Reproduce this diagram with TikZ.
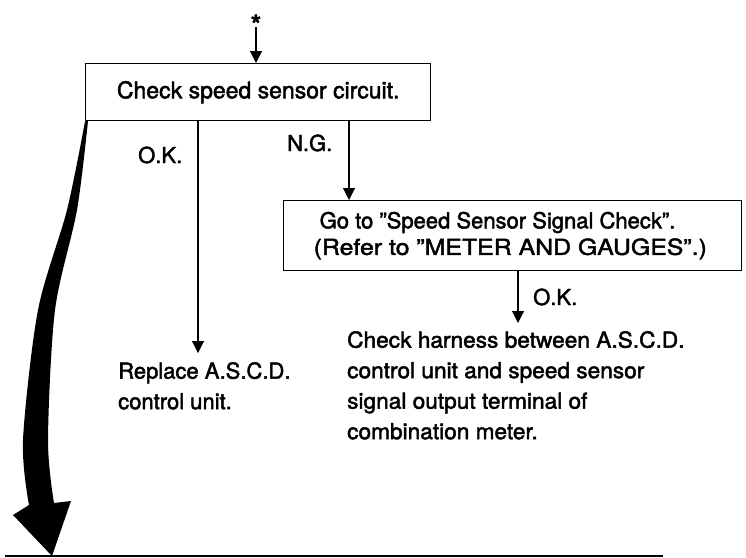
\documentclass[tikz,border=0pt]{standalone}
\usepackage{fontspec}
\setmainfont{TeX Gyre Heros}[FakeBold=2]
\usetikzlibrary{arrows.meta}
\begin{document}
\begin{tikzpicture}[x=1pt,y=-1pt,
  every node/.style={font=\fontsize{22}{30.5}\selectfont, inner sep=0pt},
  box/.style={draw, line width=1.4pt},
  conn/.style={line width=1.1pt, -{Triangle[length=12pt,width=12pt]}},
  lbl/.style={anchor=base west},
  txt/.style={anchor=north west, align=left}
]
\useasboundingbox (0,0) rectangle (746,557);
% boxes
\node[box, anchor=north west, minimum width=345pt, minimum height=57pt,
      font=\fontsize{23}{30}\selectfont] (b1) at (85,63) {Check speed sensor circuit.};
\node[box, anchor=north west, minimum width=458pt, minimum height=70pt,
      text width=386pt, inner xsep=36pt, align=flush left] (b2) at (283,200)
  {\mbox{Go to ''Speed Sensor Signal Check''.}\\[-4pt]\mbox{\hspace*{-6pt}\addfontfeatures{FakeStretch=1.13}(Refer to ''METER AND GAUGES''.)}};
% star
\node[font=\fontsize{26}{26}\bfseries] (star) at (256,24) {*};
\draw[conn] (256,27) -- (b1.north -| star);
% O.K. branch
\coordinate (okTip) at (198,353);
\draw[conn] (b1.south -| okTip) -- (okTip);
\node[lbl] (ok1) at (138,163) {O.K.};
\node[txt] (rep) at (118,362) {Replace A.S.C.D.\\control unit.};
% N.G. branch
\coordinate (ngx) at (349,0);
\draw[conn] (b1.south -| ngx) -- (b2.north -| ngx);
\node[lbl] (ng) at (287,151) {N.G.};
% O.K. from box 2
\coordinate (ok2Tip) at (518,323);
\draw[conn] (b2.south -| ok2Tip) -- (ok2Tip);
\node[lbl] (ok2) at (533,305) {O.K.};
\node[txt, font=\fontsize{22}{30.5}\selectfont\addfontfeatures{FakeStretch=1.03}] (ch) at (347,331) {Check harness between A.S.C.D.\\control unit and speed sensor\\signal output terminal of\\combination meter.};
% big curved arrow
\coordinate (bigtip) at (52,556);
\fill plot[smooth] coordinates {(b1.south west) (67,210) (38,310) (23,440) (29,505)}
  -- (13,515) -- (bigtip) -- (71,501)
  -- plot[smooth] coordinates {(54,503) (48,440) (55,310) (77,210) (88,121)} -- cycle;
% bottom rule
\coordinate (r1) at (5,555.5);
\coordinate (r2) at (663,555.5);
\draw[line width=2pt] (r1) -- (r2);
\end{tikzpicture}
\end{document}
